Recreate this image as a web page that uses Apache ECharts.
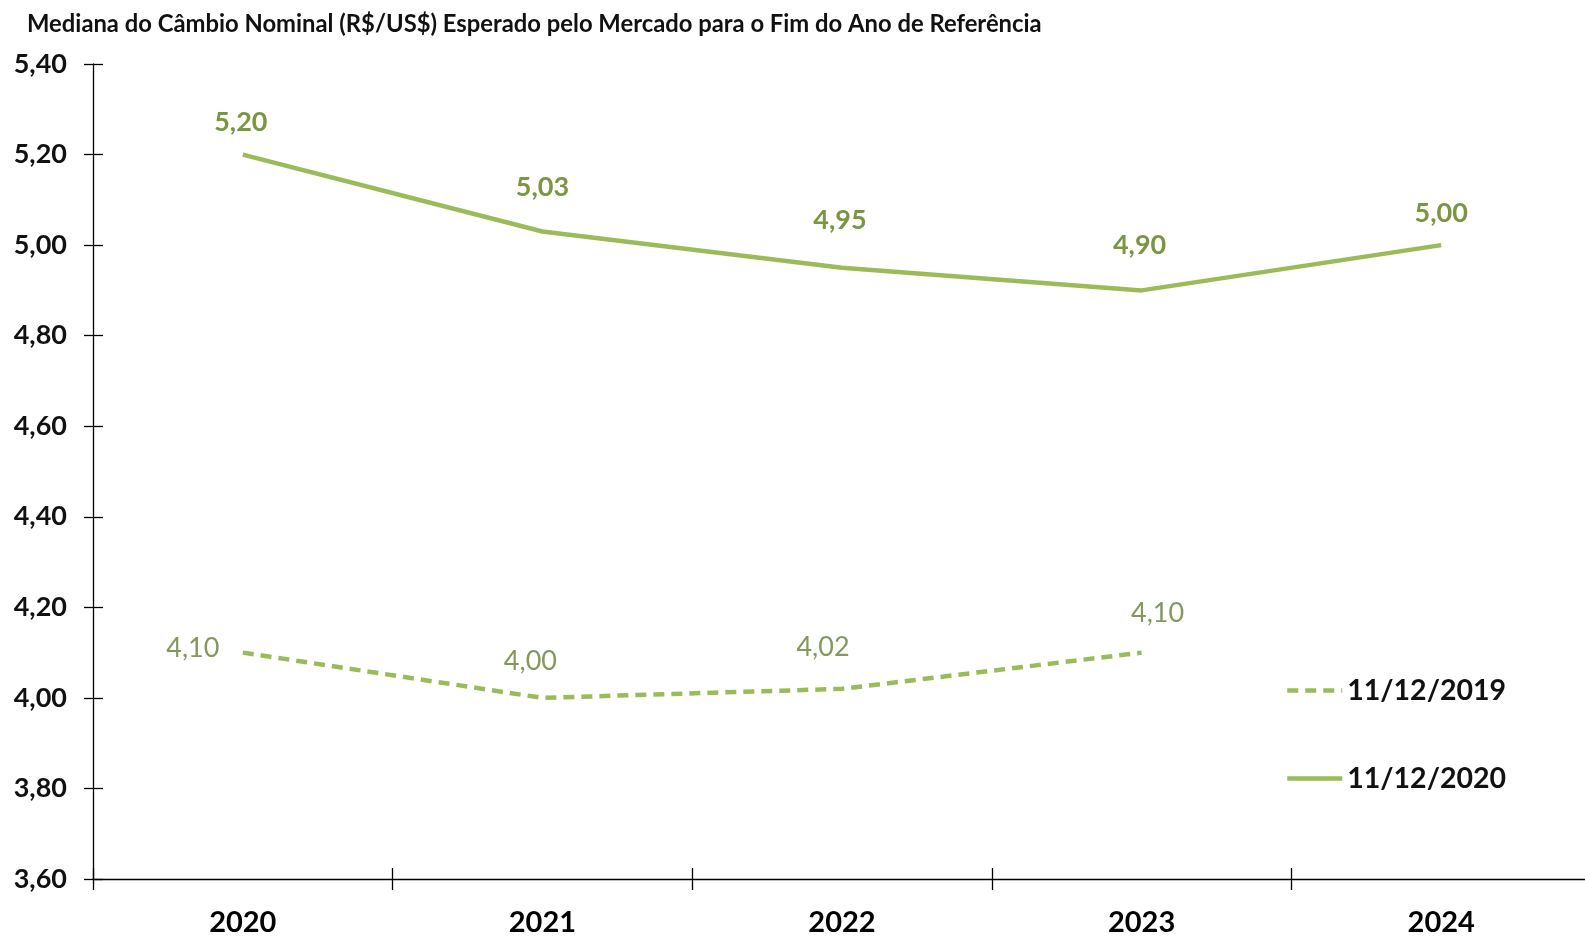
<!DOCTYPE html>
<html>
<head>
<meta charset="utf-8">
<script src="https://cdn.jsdelivr.net/npm/echarts@6/dist/echarts.min.js"></script>
<style>
html,body{margin:0;padding:0;background:#fff;overflow:hidden;}
#chart{width:1600px;height:937px;}
</style>
</head>
<body>
<div id="chart"></div>
<script>
const titleText = 'Mediana do Câmbio Nominal (R$/US$) Esperado pelo Mercado para o Fim do Ano de Referência';
const categories = ['2020', '2021', '2022', '2023', '2024'];
const seriesNames = ['11/12/2019', '11/12/2020'];
const values2019 = [4.10, 4.00, 4.02, 4.10, null];
const values2020 = [5.20, 5.03, 4.95, 4.90, 5.00];
const yMin = 3.6, yMax = 5.4, yStep = 0.2;

// label placement (style only)
const offs2019 = [[-50, -4], [-12, -37], [-19, -42], [16, -39], [0, 0]];
const offs2020 = [[-2, -32], [0, -44], [-2, -47], [-2, -45], [0, -32]];

const fmt = v => v.toFixed(2).replace('.', ',');
const FONT = 'Lato';
const lineColor = '#9bbb59';

function buildData(vals, offs) {
  return vals.map((v, i) => v == null ? null : {
    value: v,
    label: { offset: offs[i] }
  });
}

const chart = echarts.init(document.getElementById('chart'), null, { renderer: 'canvas' });
chart.setOption({
  backgroundColor: '#fff',
  animation: false,
  title: {
    text: titleText, left: 22, top: 7,
    textStyle: { fontFamily: FONT, fontSize: 23.8, fontWeight: 'bold', color: '#111' }
  },
  grid: { left: 93, top: 64, bottom: 57, right: 9, containLabel: false },
  legend: {
    orient: 'vertical', left: 1280, top: 671,
    itemWidth: 55, itemHeight: 14, itemGap: 59,
    itemStyle: { opacity: 0 },
    lineStyle: { width: 4.5 },
    textStyle: { fontFamily: FONT, fontSize: 28.5, fontWeight: 'bold', color: '#111' },
    data: seriesNames
  },
  xAxis: [{
    type: 'category', data: categories, position: 'bottom', boundaryGap: true,
    axisLine: { lineStyle: { color: '#000', width: 1.3 } },
    axisTick: { show: true, length: 11, inside: false, lineStyle: { color: '#000', width: 1.3 } },
    axisLabel: { margin: 29, fontFamily: FONT, fontSize: 29, fontWeight: 'bold', color: '#000' }
  }, {
    type: 'category', data: categories, position: 'bottom', boundaryGap: true,
    axisLine: { show: false },
    axisTick: { show: true, length: 11, inside: true, lineStyle: { color: '#000', width: 1.3 } },
    axisLabel: { show: false }
  }],
  yAxis: [{
    type: 'value', min: yMin, max: yMax, interval: yStep, position: 'left',
    axisLine: { show: true, onZero: false, lineStyle: { color: '#000', width: 1.3 } },
    axisTick: { show: true, length: 9, inside: false, lineStyle: { color: '#000', width: 1.3 } },
    splitLine: { show: false },
    axisLabel: { margin: 26, fontFamily: FONT, fontSize: 27, fontWeight: 'bold', color: '#111', formatter: fmt }
  }, {
    type: 'value', min: yMin, max: yMax, interval: yStep, position: 'left',
    axisLine: { show: false },
    axisTick: { show: true, length: 10, inside: true, lineStyle: { color: '#000', width: 1.3 } },
    splitLine: { show: false },
    axisLabel: { show: false }
  }],
  series: [{
    name: seriesNames[0], type: 'line', xAxisIndex: 0, yAxisIndex: 0,
    data: buildData(values2019, offs2019),
    symbol: 'circle', symbolSize: 1, showSymbol: true,
    itemStyle: { color: 'rgba(0,0,0,0)', borderWidth: 0 },
    lineStyle: { color: lineColor, width: 4.5, type: [11, 7] },
    label: {
      show: true, position: 'inside', align: 'center', verticalAlign: 'middle',
      fontFamily: FONT, fontSize: 27, color: '#84985c',
      formatter: p => fmt(p.value)
    },
    connectNulls: false
  }, {
    name: seriesNames[1], type: 'line', xAxisIndex: 0, yAxisIndex: 0,
    data: buildData(values2020, offs2020),
    symbol: 'circle', symbolSize: 1, showSymbol: true,
    itemStyle: { color: 'rgba(0,0,0,0)', borderWidth: 0 },
    lineStyle: { color: lineColor, width: 4.5, type: 'solid' },
    label: {
      show: true, position: 'inside', align: 'center', verticalAlign: 'middle',
      fontFamily: FONT, fontSize: 27, fontWeight: 'bold', color: '#7a9640',
      formatter: p => fmt(p.value)
    }
  }]
});
</script>
</body>
</html>
